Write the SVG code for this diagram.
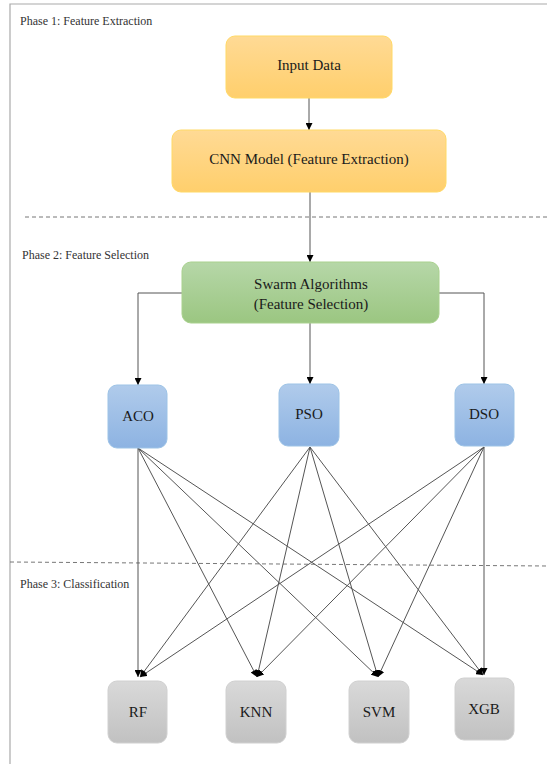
<svg xmlns="http://www.w3.org/2000/svg" width="547" height="764" viewBox="0 0 547 764">
<defs>
<style>
.phase{font-family:"Liberation Serif",serif;font-size:12px;fill:#333}
.lbl{font-family:"Liberation Serif",serif;font-size:15px;fill:#1a1a1a;text-anchor:middle}
.edge{stroke:#555;stroke-width:1;fill:none}
.dash{stroke:#777;stroke-width:1;stroke-dasharray:4 3;fill:none}
</style>
<linearGradient id="gOrange" x1="0" y1="0" x2="0" y2="1"><stop offset="0" stop-color="#FFDA95"/><stop offset="1" stop-color="#FFCF6C"/></linearGradient>
<linearGradient id="gGreen" x1="0" y1="0" x2="0" y2="1"><stop offset="0" stop-color="#B6D7A8"/><stop offset="1" stop-color="#9BC681"/></linearGradient>
<linearGradient id="gBlue" x1="0" y1="0" x2="0" y2="1"><stop offset="0" stop-color="#B0CBEB"/><stop offset="1" stop-color="#8DB3E2"/></linearGradient>
<linearGradient id="gGrey" x1="0" y1="0" x2="0" y2="1"><stop offset="0" stop-color="#D9D9D9"/><stop offset="1" stop-color="#C1C1C1"/></linearGradient>
<marker id="arr" viewBox="0 0 10 10" refX="10" refY="5" markerWidth="7" markerHeight="7" orient="auto" markerUnits="userSpaceOnUse"><path d="M0,0 L10,5 L0,10 z" fill="#000"/></marker>
</defs>
<rect x="0" y="0" width="547" height="764" fill="#fff"/>
<path d="M10,770 L10,4 L560,4" stroke="#aaa" stroke-width="1.2" fill="none"/>
<line class="dash" x1="25" y1="217" x2="547" y2="217"/>
<line class="dash" x1="10" y1="562" x2="547" y2="566"/>
<text class="phase" x="20" y="25">Phase 1: Feature Extraction</text>
<text class="phase" x="22" y="259">Phase 2: Feature Selection</text>
<text class="phase" x="20" y="588">Phase 3: Classification</text>
<g id="connectors">
<line class="edge" x1="309" y1="98" x2="309" y2="130" marker-end="url(#arr)"/>
<line class="edge" x1="310" y1="192" x2="310" y2="262" marker-end="url(#arr)"/>
<path class="edge" d="M182,293 L138,293 L138,385" marker-end="url(#arr)"/>
<line class="edge" x1="310" y1="323" x2="310" y2="384" marker-end="url(#arr)"/>
<path class="edge" d="M439,293 L484,293 L484,384" marker-end="url(#arr)"/>
<line class="edge" x1="138" y1="448" x2="138" y2="677" marker-end="url(#arr)"/>
<line class="edge" x1="138" y1="448" x2="257" y2="677" marker-end="url(#arr)"/>
<line class="edge" x1="138" y1="448" x2="378" y2="677" marker-end="url(#arr)"/>
<line class="edge" x1="138" y1="448" x2="483" y2="675" marker-end="url(#arr)"/>
<line class="edge" x1="310" y1="447" x2="140" y2="677" marker-end="url(#arr)"/>
<line class="edge" x1="310" y1="447" x2="257" y2="677" marker-end="url(#arr)"/>
<line class="edge" x1="310" y1="447" x2="378" y2="677" marker-end="url(#arr)"/>
<line class="edge" x1="310" y1="447" x2="483" y2="675" marker-end="url(#arr)"/>
<line class="edge" x1="484" y1="447" x2="140" y2="677" marker-end="url(#arr)"/>
<line class="edge" x1="484" y1="447" x2="257" y2="677" marker-end="url(#arr)"/>
<line class="edge" x1="484" y1="447" x2="378" y2="677" marker-end="url(#arr)"/>
<line class="edge" x1="484" y1="447" x2="484" y2="675" marker-end="url(#arr)"/>
</g>
<g id="input"><rect x="226" y="36" width="166" height="62" rx="9" fill="url(#gOrange)" stroke="#FFD966"/><text class="lbl" x="309" y="70">Input Data</text></g>
<g id="cnn"><rect x="172" y="130" width="274" height="62" rx="9" fill="url(#gOrange)" stroke="#FFD966"/><text class="lbl" x="309" y="164">CNN Model (Feature Extraction)</text></g>
<g id="swarm"><rect x="182" y="262" width="257" height="61" rx="9" fill="url(#gGreen)" stroke="#A9D18E"/><text class="lbl" x="311" y="289">Swarm Algorithms</text><text class="lbl" x="311" y="309">(Feature Selection)</text></g>
<g id="aco"><rect x="108" y="385" width="59" height="63" rx="9" fill="url(#gBlue)" stroke="#9DC3E6"/><text class="lbl" x="138" y="421">ACO</text></g>
<g id="pso"><rect x="279" y="384" width="60" height="62" rx="9" fill="url(#gBlue)" stroke="#9DC3E6"/><text class="lbl" x="309" y="419">PSO</text></g>
<g id="dso"><rect x="455" y="384" width="59" height="62" rx="9" fill="url(#gBlue)" stroke="#9DC3E6"/><text class="lbl" x="484" y="419">DSO</text></g>
<g id="rf"><rect x="108" y="681" width="59" height="62" rx="9" fill="url(#gGrey)" stroke="#D0D0D0"/><text class="lbl" x="138" y="717">RF</text></g>
<g id="knn"><rect x="226" y="681" width="60" height="62" rx="9" fill="url(#gGrey)" stroke="#D0D0D0"/><text class="lbl" x="256" y="717">KNN</text></g>
<g id="svm"><rect x="349" y="681" width="60" height="62" rx="9" fill="url(#gGrey)" stroke="#D0D0D0"/><text class="lbl" x="379" y="717">SVM</text></g>
<g id="xgb"><rect x="455" y="678" width="59" height="62" rx="9" fill="url(#gGrey)" stroke="#D0D0D0"/><text class="lbl" x="484" y="714">XGB</text></g>
</svg>
